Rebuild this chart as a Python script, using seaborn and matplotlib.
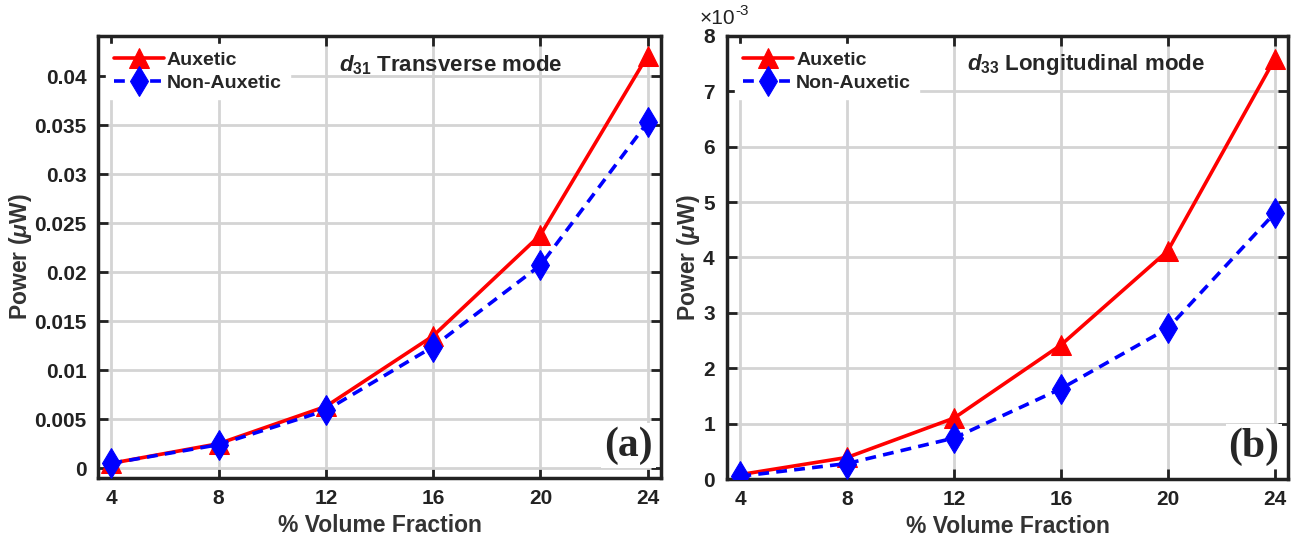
import pandas as pd
import seaborn as sns
import matplotlib.pyplot as plt
from matplotlib.ticker import ScalarFormatter

# --- Data ---
vol_frac = [4, 8, 12, 16, 20, 24]

d31_auxetic = [0.0005, 0.0025, 0.0063, 0.0135, 0.0238, 0.0421]
d31_non_auxetic = [0.0005, 0.0024, 0.0059, 0.0124, 0.0207, 0.0353]

d33_auxetic = [0.00008, 0.00039, 0.00110, 0.00242, 0.00412, 0.00758]
d33_non_auxetic = [0.00005, 0.00028, 0.00074, 0.00163, 0.00272, 0.00480]

series_names = ["Auxetic", "Non-Auxetic"]
panel_titles = [r"$d_{31}$ Transverse mode", r"$d_{33}$ Longitudinal mode"]
panel_tags = ["(a)", "(b)"]
a_ticks = [0, 0.005, 0.01, 0.015, 0.02, 0.025, 0.03, 0.035, 0.04]
a_ticklabels = ["0", "0.005", "0.01", "0.015", "0.02", "0.025", "0.03", "0.035", "0.04"]
b_ticks = [0, 0.001, 0.002, 0.003, 0.004, 0.005, 0.006, 0.007, 0.008]

# --- Style ---
sns.set_theme(style="ticks")
plt.rcParams["font.family"] = ["Liberation Sans", "DejaVu Sans"]
plt.rcParams["font.weight"] = "bold"
plt.rcParams["mathtext.fontset"] = "custom"
plt.rcParams["mathtext.rm"] = "Liberation Sans:bold"
plt.rcParams["mathtext.it"] = "Liberation Sans:italic:bold"
plt.rcParams["mathtext.bf"] = "Liberation Sans:bold"

fig = plt.figure(figsize=(13.01, 5.39), dpi=100)
ax_a = fig.add_axes([0.0753, 0.1132, 0.4328, 0.820])
ax_b = fig.add_axes([0.5588, 0.1113, 0.4312, 0.822])


def draw_panel(ax, aux, non_aux, title, tag, ylim, yticks):
    df_aux = pd.DataFrame({"x": vol_frac, "y": aux})
    df_non = pd.DataFrame({"x": vol_frac, "y": non_aux})
    sns.lineplot(data=df_aux, x="x", y="y", ax=ax, color="red", lw=2.6,
                 marker="^", markersize=15, markeredgecolor="red",
                 label=series_names[0], zorder=3)
    sns.lineplot(data=df_non, x="x", y="y", ax=ax, color="blue", lw=2.6,
                 linestyle=(0, (3, 2)), marker="d", markersize=15,
                 markeredgecolor="blue", label=series_names[1], zorder=4)

    ax.set_xlim(3.5, 24.5)
    ax.set_ylim(*ylim)
    ax.set_xticks(vol_frac)
    ax.set_yticks(yticks)
    ax.grid(True, color="#d4d4d4", lw=2)
    ax.set_axisbelow(True)
    for s in ax.spines.values():
        s.set_linewidth(2.5)
        s.set_color("#222222")
    ax.tick_params(direction="in", length=7, width=2, top=True, right=True,
                   labelsize=15, color="#222222", labelcolor="#222222", pad=8)

    ax.set_xlabel("% Volume Fraction", fontsize=16.5, fontweight="bold", color="#333333")
    ax.set_ylabel(r"Power ($\mu$W)", fontsize=16.5, fontweight="bold", color="#333333",
                  labelpad=0)

    leg = ax.legend(loc="upper left", fontsize=14, frameon=True, framealpha=1,
                    edgecolor="white", fancybox=False, handlelength=2.6,
                    handletextpad=0.15, borderaxespad=0.4, labelspacing=0.25)
    for t in leg.get_texts():
        t.set_fontweight("bold")

    ax.text(0.428, 0.935, title, transform=ax.transAxes, fontsize=16,
            fontweight="bold", ha="left", va="center")
    ax.text(0.985, 0.03, tag, transform=ax.transAxes, fontsize=30,
            family="Liberation Serif", fontweight="bold", ha="right", va="bottom",
            bbox=dict(facecolor="white", edgecolor="none", pad=2))


draw_panel(ax_a, d31_auxetic, d31_non_auxetic, panel_titles[0], panel_tags[0],
           (-0.001, 0.0441), a_ticks)
ax_a.set_yticklabels(a_ticklabels)

draw_panel(ax_b, d33_auxetic, d33_non_auxetic, panel_titles[1], panel_tags[1],
           (0, 0.008), b_ticks)
fmt = ScalarFormatter(useMathText=True)
fmt.set_powerlimits((-3, -3))
ax_b.yaxis.set_major_formatter(fmt)
ax_b.yaxis.get_offset_text().set_visible(False)
# scale factor shown above the axis, as in the reference
fig.text(0.538, 0.965, "×10", fontsize=15, fontweight="normal", color="#222222",
         ha="left", va="center")
fig.text(0.5655, 0.980, "-3", fontsize=11, fontweight="normal", color="#222222",
         ha="left", va="center")

plt.savefig("out.png", dpi=100)
